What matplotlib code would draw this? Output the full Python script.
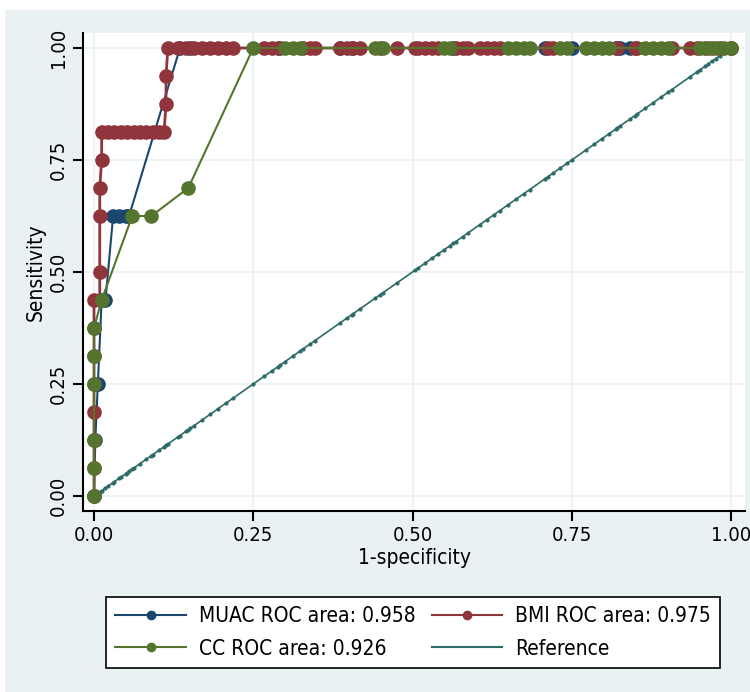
import matplotlib
matplotlib.use("Agg")
import matplotlib.pyplot as plt
from matplotlib.patches import Rectangle

plt.rcParams['font.family'] = ['DejaVu Sans']
plt.rcParams['font.stretch'] = 'condensed'

# ROC points (1-specificity, sensitivity)
muac_fpr = [0.0, 0.002, 0.006, 0.012, 0.018, 0.030, 0.040, 0.050, 0.055, 0.135,
            0.151, 0.289, 0.386, 0.405, 0.564, 0.708, 0.750, 0.819, 0.826, 0.841, 1.0]
muac_tpr = [0.0, 0.125, 0.25, 0.4375, 0.4375, 0.625, 0.625, 0.625, 0.625, 1.0,
            1.0, 1.0, 1.0, 1.0, 1.0, 1.0, 1.0, 1.0, 1.0, 1.0, 1.0]

bmi_fpr = [0.0, 0.0, 0.0, 0.0, 0.0, 0.0, 0.0, 0.0, 0.009, 0.009, 0.009, 0.009, 0.012, 0.012,
           0.022, 0.032, 0.042, 0.052, 0.062, 0.072, 0.082, 0.092, 0.102, 0.110, 0.113, 0.113, 0.116,
           0.132, 0.144, 0.157, 0.170, 0.182, 0.195, 0.207, 0.218, 0.267, 0.279, 0.292, 0.328, 0.339,
           0.347, 0.386, 0.397, 0.407, 0.418, 0.449, 0.476, 0.504, 0.509, 0.520, 0.531, 0.540, 0.568,
           0.579, 0.587, 0.606, 0.617, 0.628, 0.637, 0.713, 0.721, 0.821, 0.849, 0.852, 0.907, 0.936,
           0.947, 0.959, 0.970, 0.983, 1.0]
bmi_tpr = [0.0, 0.0625, 0.125, 0.1875, 0.25, 0.3125, 0.375, 0.4375, 0.4375, 0.5, 0.625, 0.6875, 0.75,
           0.8125, 0.8125, 0.8125, 0.8125, 0.8125, 0.8125, 0.8125, 0.8125, 0.8125, 0.8125, 0.8125,
           0.875, 0.9375, 1.0] + [1.0] * 44

cc_fpr = [0.0, 0.0, 0.0, 0.0, 0.0, 0.0, 0.012, 0.060, 0.090, 0.148, 0.250,
          0.300, 0.312, 0.323, 0.441, 0.454, 0.549, 0.559, 0.650, 0.662, 0.675, 0.684, 0.732, 0.743,
          0.772, 0.785, 0.797, 0.808, 0.865, 0.878, 0.890, 0.901, 0.951, 0.964, 0.976, 0.989, 1.0]
cc_tpr = [0.0, 0.0625, 0.125, 0.25, 0.3125, 0.375, 0.4375, 0.625, 0.625, 0.6875, 1.0] + [1.0] * 26

labels = ["MUAC ROC area: 0.958", "BMI ROC area: 0.975", "CC ROC area: 0.926", "Reference"]
colors = ["#1a476f", "#90353b", "#55752f", "#2b6b68"]

ref = sorted(set(muac_fpr + bmi_fpr + cc_fpr))

fig = plt.figure(figsize=(7.5, 6.92), dpi=100)
fig.patch.set_facecolor("white")
fig.patches.append(Rectangle((5 / 750, 0), 1, 1 - 10 / 692, transform=fig.transFigure,
                             facecolor="#e9f1f3", edgecolor="none", zorder=-10))

ax = fig.add_axes([83 / 750, 1 - 511 / 692, 662 / 750, 478 / 692])
ax.set_zorder(1)
ax.set_facecolor("white")

ax.plot(muac_fpr, muac_tpr, color=colors[0], lw=1.5, marker="o", ms=9.5, zorder=3)
ax.plot(bmi_fpr, bmi_tpr, color=colors[1], lw=2, marker="o", ms=9.5, zorder=4)
ax.plot(cc_fpr, cc_tpr, color=colors[2], lw=1.5, marker="o", ms=9.5, zorder=5)
ax.plot(ref, ref, color=colors[3], lw=1.2, marker="o", ms=2, zorder=2)

ticks = [0, 0.25, 0.5, 0.75, 1.0]
ticklabels = ["0.00", "0.25", "0.50", "0.75", "1.00"]
ax.set_xlim(-0.0173, 1.022)
ax.set_ylim(-0.0335, 1.0335)
ax.set_xticks(ticks)
ax.set_xticklabels(ticklabels, fontsize=14.5)
ax.set_yticks(ticks)
ax.set_yticklabels(ticklabels, fontsize=14.5, rotation=90, va="center")
ax.grid(True, color="#e9f1f3", lw=1.2, zorder=0)
ax.tick_params(direction="out", length=7, width=1.5, color="black", pad=4)
for s in ["top", "right"]:
    ax.spines[s].set_visible(False)
for s in ["left", "bottom"]:
    ax.spines[s].set_linewidth(1.5)
ax.set_xlabel("1-specificity", fontsize=15, labelpad=2)
ax.set_ylabel("Sensitivity", fontsize=15, labelpad=2)

leg_handles = [
    plt.Line2D([], [], color=colors[0], lw=1.5, marker="o", ms=6),
    plt.Line2D([], [], color=colors[2], lw=1.5, marker="o", ms=6),
    plt.Line2D([], [], color=colors[1], lw=1.5, marker="o", ms=6),
    plt.Line2D([], [], color=colors[3], lw=1.5),
]
leg = fig.legend(leg_handles, [labels[0], labels[2], labels[1], labels[3]], ncol=2,
                 loc="lower left", bbox_to_anchor=(106 / 750, 24 / 692, 614 / 750, 76 / 692),
                 mode="expand", borderaxespad=0, fontsize=15, frameon=True, fancybox=False,
                 edgecolor="black", framealpha=1, facecolor="white",
                 handlelength=3.4, handletextpad=0.6, labelspacing=0.6, borderpad=0.45)
leg.get_frame().set_linewidth(1.2)

fig.savefig("out.png", dpi=100)
